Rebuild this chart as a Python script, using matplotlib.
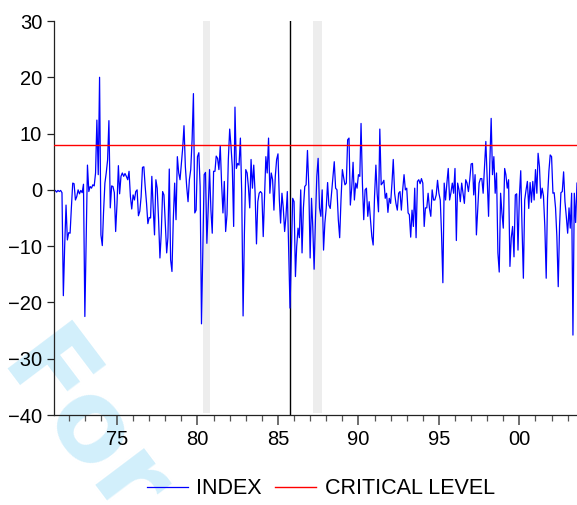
import numpy as np
import pandas as pd
import matplotlib
matplotlib.use("Agg")
import matplotlib.pyplot as plt
import matplotlib.dates as mdates

# ============================================================
# Data (monthly index)
# ============================================================
START = "1971-02"
CRITICAL_LEVEL = 8.0
BREAK_DATE = "1985-09-20"
SHADED_PERIODS = [("1980-05-01", "1980-10-10"), ("1987-03-05", "1987-09-25")]

index_71_77 = [
    -0.3, -0.1, -0.4, -0.1, -0.3, -0.1, -0.5, -18.8, -10.0, -2.7,
    -8.9, -7.6, -7.7, -3.2, 1.2, 1.1, -1.8, -1.2, 0.0, -0.7,
    -0.1, -0.5, 1.0, -22.5, -8.0, 4.4, -0.3, 0.6, 0.3, 0.9,
    0.7, 3.0, 12.4, 2.7, 20.0, -8.0, -9.9, -4.0, 1.2, 3.0,
    5.3, 12.3, -3.2, 0.7, 0.6, -0.5, -7.4, -2.4, 4.3, -0.7,
    2.4, 3.0, 2.4, 2.9, 2.4, 1.8, 3.3, -1.2, -3.4, -0.9,
    -1.8, -0.3, 0.0, -4.6, -3.8, -1.2, 4.0, 4.1, 0.6, -2.4,
    -6.0, -4.9, -5.0, 2.4, -3.2, -8.0, 1.8,
]
index_77_84 = [
    0.3, -5.3, -12.1, -7.7, -0.3, -0.9, -5.9, -11.2, -8.5, 3.7,
    -12.4, -14.5, -5.3, 1.2, -5.3, 5.9, 3.0, 1.8, 4.7, 7.6,
    11.4, 4.1, 0.6, -2.1, 1.8, 3.6, 8.9, 17.1, -4.1, -3.6,
    5.9, 6.6, 0.6, -23.8, -11.2, 2.7, 3.1, -9.5, -3.2, 3.6,
    -3.6, -7.7, 3.3, 3.3, 6.0, 5.6, 3.6, 7.8, 1.2, -4.1,
    1.5, -7.4, -4.4, 5.4, 10.8, 7.6, 4.1, -6.5, 14.7, 3.8,
    4.7, 4.4, 9.2, -0.6, -22.4, -7.7, 3.6, 3.0, 0.6, -3.2,
    5.4, 0.3, 4.4, -0.6, -9.6, -2.1, -0.6, -0.3, -0.6,
]
index_84_90 = [
    -8.3, -1.2, 5.9, 3.0, 9.2, -0.6, 3.0, 1.8, -3.6, 2.4,
    5.4, 6.4, -1.8, -5.9, -0.6, -3.2, -7.4, -4.7, -0.3, -10.7,
    -21.0, -10.7, -1.5, -2.1, -15.4, -10.1, -6.8, -8.5, 0.0, -11.2,
    -3.2, 0.6, 0.9, 7.0, 0.6, -12.1, -1.5, -6.5, -14.1, -5.3,
    2.4, 5.6, -3.2, -4.7, 0.0, -10.7, -5.9, -3.2, 1.3, -2.7,
    -3.3, -0.6, 2.4, 5.0, 0.3, 0.0, -5.3, -8.5, -1.8, 3.6,
    2.1, 0.9, 1.2, 8.9, 9.2, -2.7, 0.3, 4.9, -1.8, 1.2,
    0.3, 2.7, 2.4, 11.8, 1.2, -5.3, 0.0, 0.3, -4.7,
]
index_90_97 = [
    -2.1, -5.3, -8.3, -9.8, -1.2, 4.4, -0.6, -3.9, 10.8, 0.9,
    1.2, 1.7, -1.5, -0.6, -4.0, -1.5, -2.4, 1.2,
    5.4, -0.6, -2.4, -3.6, -0.6, -0.3, -3.6, 0.0, 2.7, 0.0,
    0.3, -4.1, -4.4, -8.4, -3.6, -6.5, 0.3, -8.5, 1.5, 1.8,
    1.1, 2.0, 1.2, -6.5, -3.2, -3.2, -0.6, -3.3, -4.7, 0.0,
    -1.8, -1.8, -0.9, 1.7, -0.6, -1.8, -7.7, -16.5, 1.2, -1.8,
    1.2, 3.8, -1.8, -0.5, 1.2, -0.6, 3.8, -9.0, 1.2, 0.0,
    -2.1, 1.2, -0.6, -2.4, 1.8, 1.2, -0.3, 1.8, 4.6, 4.7,
]
index_97_03 = [
    -0.9, 2.7, -8.0, -3.2, 1.2, 2.0, 2.0, -0.6, 4.1, 8.6,
    1.8, -4.7, 4.7, 12.7, 2.7, 5.9, -0.6, 3.0, -11.2, -14.6,
    -0.6, -4.1, -6.8, 3.8, 2.7, 0.3, 1.8, -13.6, -8.5, -6.5,
    -11.9, -0.9, -0.7, -10.7, -1.2, 3.4, -6.5, -15.7, -1.8, 0.0,
    1.5, -3.3, 1.3, -2.2, 1.5, -1.8, 3.6, -0.6, 6.5, 4.1,
    -1.5, 0.3, -1.1, -6.5, -15.7, -1.5, 3.3, 6.2, 5.9, -0.6,
    -0.5, -3.2, -8.3, -17.2, -6.5, -0.5, -0.3, 3.2, -2.1, -4.7,
    -7.7, -3.2, -6.8, -0.6, -25.8, -0.6, -5.8, 1.2,
]

values = index_71_77 + index_77_84 + index_84_90 + index_90_97 + index_97_03
dates = pd.date_range(START, periods=len(values), freq="MS")

# ============================================================
# Plot
# ============================================================
plt.rcParams["font.family"] = ["Liberation Sans", "DejaVu Sans"]

fig = plt.figure(figsize=(5.77, 5.05), dpi=100)
ax = fig.add_axes([0.0936, 0.1782, 0.9064, 0.7802])
ax.patch.set_facecolor("none")

# watermark (cut off at the lower left corner)
fig.text(-0.006, 0.272, "For", fontsize=80, fontweight="bold",
         family="DejaVu Sans", color="#d2effb", rotation=-53,
         rotation_mode="anchor", ha="left", va="baseline", zorder=-1)

for start, end in SHADED_PERIODS:
    ax.axvspan(pd.Timestamp(start), pd.Timestamp(end), ymin=0.005, ymax=1.0,
               color="#ededed", lw=0, zorder=0)

ax.axvline(pd.Timestamp(BREAK_DATE), color="black", lw=1.0, zorder=1)
ax.plot(dates, values, color="#0000ff", lw=0.9, label="INDEX", zorder=2)
ax.axhline(CRITICAL_LEVEL, color="#ff0000", lw=1.0, label="CRITICAL LEVEL", zorder=3)

ax.set_ylim(-40, 30)
ax.set_yticks([-40, -30, -20, -10, 0, 10, 20, 30])
ax.set_xlim(dates[0], dates[-1])

ax.xaxis.set_major_locator(mdates.YearLocator(5))
ax.xaxis.set_minor_locator(mdates.YearLocator(1))
ax.xaxis.set_major_formatter(mdates.DateFormatter("%y"))

for side in ["top", "right"]:
    ax.spines[side].set_visible(False)
for side in ["left", "bottom"]:
    ax.spines[side].set_linewidth(0.9)
    ax.spines[side].set_color("#222222")

ax.tick_params(axis="y", direction="out", length=5, width=0.9, pad=3.5,
               labelsize=14.5, colors="#222222", labelcolor="black")
ax.tick_params(axis="x", which="major", direction="out", length=7.5, width=1.2,
               pad=3, labelsize=14.5, colors="#555555", labelcolor="black")
ax.tick_params(axis="x", which="minor", direction="out", length=4, width=0.9,
               colors="#555555")

fig.legend(loc="center", bbox_to_anchor=(0.556, 0.032), ncol=2, frameon=False,
           fontsize=15.5, handlelength=1.9, handletextpad=0.4, columnspacing=0.6)

plt.savefig("out.png", dpi=100)
plt.close()
